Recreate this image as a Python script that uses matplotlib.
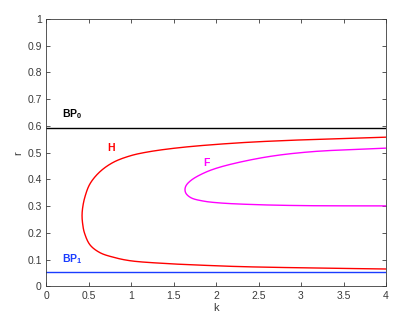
import matplotlib
matplotlib.use("Agg")
import matplotlib.pyplot as plt
import numpy as np

# Hopf curve H (k, r) traced from upper end through the nose to lower end
H_k = [4.0, 3.1, 2.28, 1.576, 1.184, 0.988, 0.792, 0.635, 0.518, 0.458, 0.431, 0.424,
       0.431, 0.452, 0.518, 0.635, 0.792, 0.988, 1.38, 1.773, 2.28, 3.1, 4.0]
H_r = [0.558, 0.549, 0.537, 0.519, 0.502, 0.488, 0.464, 0.429, 0.384, 0.335, 0.294, 0.264,
       0.234, 0.200, 0.155, 0.126, 0.109, 0.096, 0.086, 0.080, 0.074, 0.069, 0.065]

# Fold curve F
F_k = [4.0, 3.1, 2.557, 2.047, 1.851, 1.708, 1.648, 1.635,
       1.648, 1.708, 1.851, 2.047, 2.439, 3.027, 4.0]
F_r = [0.517, 0.503, 0.482, 0.446, 0.423, 0.397, 0.377, 0.362,
       0.347, 0.331, 0.319, 0.312, 0.306, 0.302, 0.301]

BP0_r = 0.593
BP1_r = 0.053

x_ticks = [0, 0.5, 1, 1.5, 2, 2.5, 3, 3.5, 4]
x_ticklabels = ["0", "0.5", "1", "1.5", "2", "2.5", "3", "3.5", "4"]
y_ticks = [0, 0.1, 0.2, 0.3, 0.4, 0.5, 0.6, 0.7, 0.8, 0.9, 1]
y_ticklabels = ["0", "0.1", "0.2", "0.3", "0.4", "0.5", "0.6", "0.7", "0.8", "0.9", "1"]


def smooth(xs, ys, yscale=3.14, n=30):
    """Centripetal Catmull-Rom spline through the read points."""
    pts = np.column_stack([np.asarray(xs, float), np.asarray(ys, float) * yscale])
    P = np.vstack([2 * pts[0] - pts[1], pts, 2 * pts[-1] - pts[-2]])
    out = []
    for i in range(1, len(P) - 2):
        p0, p1, p2, p3 = P[i - 1], P[i], P[i + 1], P[i + 2]
        t0 = 0.0
        t1 = t0 + np.linalg.norm(p1 - p0) ** 0.5
        t2 = t1 + np.linalg.norm(p2 - p1) ** 0.5
        t3 = t2 + np.linalg.norm(p3 - p2) ** 0.5
        t = np.linspace(t1, t2, n, endpoint=False)[:, None]
        A1 = (t1 - t) / (t1 - t0) * p0 + (t - t0) / (t1 - t0) * p1
        A2 = (t2 - t) / (t2 - t1) * p1 + (t - t1) / (t2 - t1) * p2
        A3 = (t3 - t) / (t3 - t2) * p2 + (t - t2) / (t3 - t2) * p3
        B1 = (t2 - t) / (t2 - t0) * A1 + (t - t0) / (t2 - t0) * A2
        B2 = (t3 - t) / (t3 - t1) * A2 + (t - t1) / (t3 - t1) * A3
        C = (t2 - t) / (t2 - t1) * B1 + (t - t1) / (t2 - t1) * B2
        out.append(C)
    out.append(pts[-1:])
    out = np.vstack(out)
    return out[:, 0], out[:, 1] / yscale


plt.rcParams['font.family'] = ['Liberation Sans', 'DejaVu Sans']
plt.rcParams['mathtext.fontset'] = 'custom'
plt.rcParams['mathtext.bf'] = 'Liberation Sans:bold'
plt.rcParams['mathtext.rm'] = 'Liberation Sans'
fig = plt.figure(figsize=(4.09, 3.33), dpi=100)
ax = fig.add_axes([0.1125, 0.140, 0.8313, 0.803])

ax.axhline(BP0_r, color='black', lw=1.0)
ax.axhline(BP1_r, color='#1a3cff', lw=1.0)
hx, hy = smooth(H_k, H_r)
ax.plot(hx, hy, color='red', lw=1.0)
fx, fy = smooth(F_k, F_r)
ax.plot(fx, fy, color='magenta', lw=1.0)

ax.text(0.19, 0.645, r'$\mathbf{BP_0}$', color='black', fontsize=7.5, va='center', ha='left')
ax.text(0.19, 0.102, r'$\mathbf{BP_1}$', color='#1a3cff', fontsize=7.5, va='center', ha='left')
ax.text(0.72, 0.518, 'H', color='red', fontsize=7.5, fontweight='bold', va='center', ha='left')
ax.text(1.85, 0.463, 'F', color='magenta', fontsize=7.5, fontweight='bold', va='center', ha='left')

ax.set_xlim(0, 4)
ax.set_ylim(0, 1)
ax.set_xticks(x_ticks)
ax.set_xticklabels(x_ticklabels)
ax.set_yticks(y_ticks)
ax.set_yticklabels(y_ticklabels)
ax.tick_params(direction='in', length=3, width=0.6, top=True, right=True,
               labelsize=7.5, colors='#3a3a3a', pad=3)
for s in ax.spines.values():
    s.set_color('#3a3a3a')
    s.set_linewidth(0.6)
ax.set_xlabel('k', fontsize=8, color='#3a3a3a', labelpad=2)
ax.set_ylabel('r', fontsize=8, color='#3a3a3a', labelpad=3)

fig.savefig('out.png', dpi=100)
